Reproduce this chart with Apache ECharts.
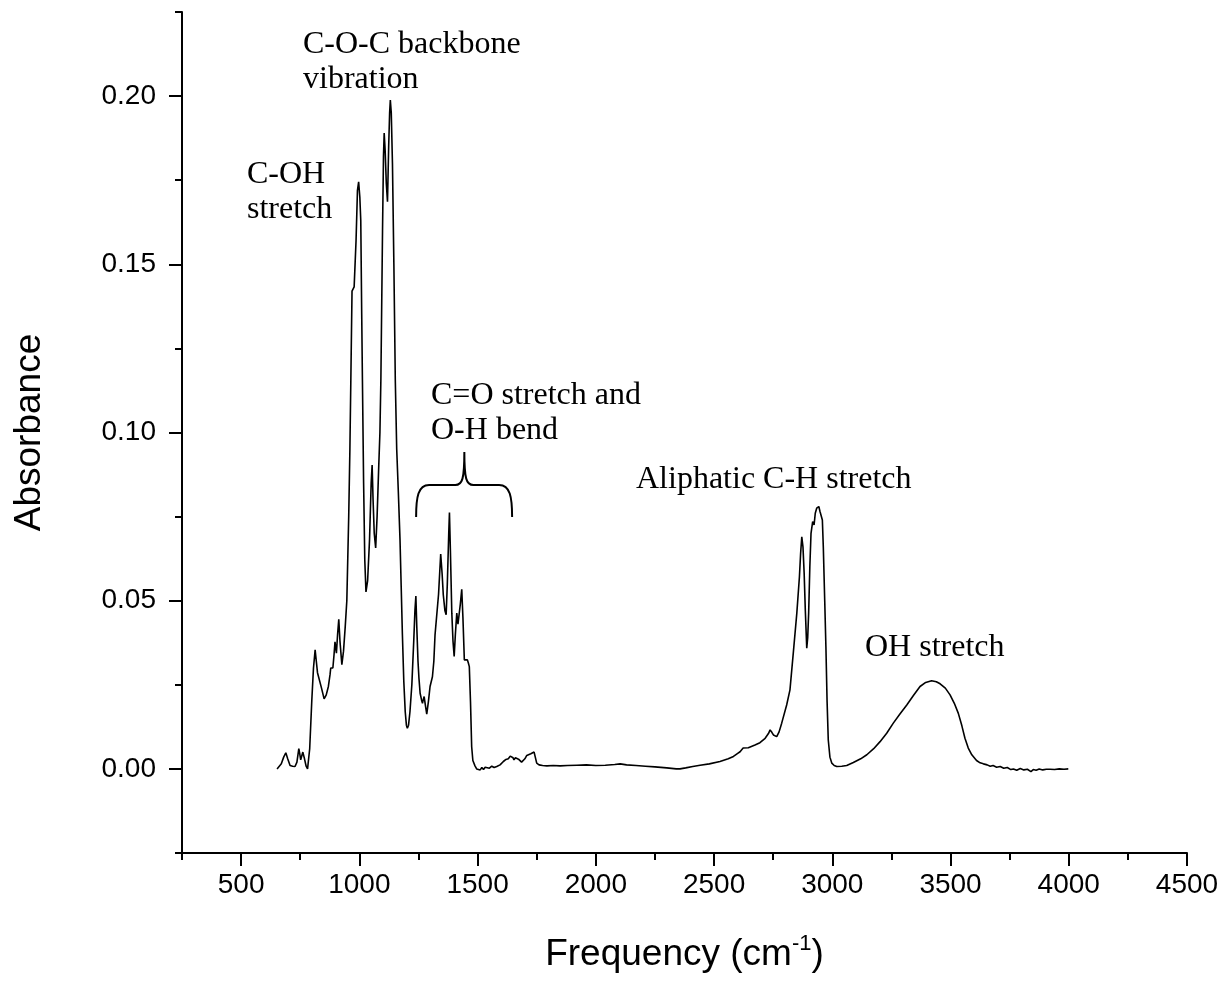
<!DOCTYPE html>
<html>
<head>
<meta charset="utf-8">
<script src="https://cdn.jsdelivr.net/npm/echarts@6/dist/echarts.min.js"></script>
<style>html,body{margin:0;padding:0;background:#fff;}#chart{width:1227px;height:984px;}</style>
</head>
<body>
<div id="chart"></div>
<script>
// Wavenumber (cm-1)
const wavenumber = [652,670,680,689,697,707,718,728,736,744,748,752,757,761,768,775,781,790,799,806,813,818,823,831,840,851,860,869,876,879,888,893,897,903,908,913,918,926,933,940,947,955,960,964,969,978,986,992,997,1002,1006,1010,1013,1018,1023,1028,1035,1043,1050,1054,1058,1063,1069,1075,1082,1087,1091,1098,1102,1105,1109,1114,1119,1124,1128,1131,1135,1140,1146,1152,1158,1165,1172,1177,1182,1188,1194,1199,1203,1208,1214,1222,1230,1235,1239,1243,1248,1252,1257,1263,1267,1270,1274,1279,1285,1292,1299,1309,1315,1320,1327,1335,1344,1350,1355,1362,1367,1372,1378,1381,1385,1391,1396,1401,1406,1412,1417,1421,1427,1433,1438,1444,1450,1457,1461,1465,1470,1475,1480,1489,1496,1503,1511,1518,1525,1532,1539,1550,1560,1570,1581,1595,1609,1620,1630,1638,1645,1650,1654,1660,1667,1673,1680,1686,1691,1700,1708,1715,1725,1733,1739,1744,1750,1760,1775,1793,1820,1849,1880,1920,1960,2000,2040,2080,2103,2130,2170,2210,2250,2300,2340,2356,2380,2410,2441,2480,2525,2560,2582,2600,2610,2623,2631,2645,2652,2673,2694,2716,2730,2737,2745,2751,2765,2775,2786,2807,2821,2835,2850,2861,2866,2871,2876,2881,2886,2892,2896,2900,2905,2910,2917,2923,2928,2934,2943,2948,2955,2958,2962,2968,2973,2978,2983,2990,2998,3008,3019,3040,3061,3089,3120,3146,3175,3202,3230,3258,3286,3315,3343,3371,3395,3420,3440,3456,3478,3498,3516,3533,3548,3561,3575,3590,3610,3625,3639,3655,3668,3680,3695,3710,3725,3740,3755,3766,3780,3795,3810,3825,3840,3850,3862,3875,3890,3905,3921,3940,3960,3980,3998];
// Absorbance
const absorbance = [0.0000,0.0015,0.0035,0.0048,0.0030,0.0010,0.0008,0.0007,0.0020,0.0060,0.0045,0.0027,0.0040,0.0050,0.0030,0.0008,0.0000,0.0060,0.0205,0.0300,0.0354,0.0320,0.0286,0.0284,0.0240,0.0208,0.0220,0.0245,0.0280,0.0300,0.0300,0.0340,0.0378,0.0344,0.0400,0.0445,0.0380,0.0310,0.0350,0.0420,0.0500,0.0750,0.0950,0.1156,0.1420,0.1433,0.1570,0.1720,0.1745,0.1700,0.1630,0.1350,0.1156,0.0850,0.0620,0.0526,0.0560,0.0680,0.0850,0.0903,0.0800,0.0700,0.0657,0.0750,0.0900,0.1000,0.1156,0.1600,0.1820,0.1890,0.1840,0.1740,0.1686,0.1850,0.1950,0.1988,0.1950,0.1800,0.1500,0.1156,0.0950,0.0820,0.0680,0.0540,0.0400,0.0260,0.0170,0.0130,0.0121,0.0130,0.0170,0.0250,0.0380,0.0470,0.0514,0.0420,0.0320,0.0270,0.0225,0.0205,0.0195,0.0205,0.0215,0.0190,0.0163,0.0200,0.0245,0.0274,0.0320,0.0398,0.0403,0.0520,0.0639,0.0580,0.0517,0.0470,0.0458,0.0550,0.0700,0.0762,0.0650,0.0463,0.0380,0.0334,0.0400,0.0463,0.0430,0.0425,0.0490,0.0534,0.0450,0.0324,0.0322,0.0324,0.0315,0.0304,0.0200,0.0066,0.0025,0.0009,0.0000,0.0005,-0.0003,0.0004,-0.0002,0.0005,0.0005,0.0002,0.0008,0.0004,0.0007,0.0012,0.0022,0.0028,0.0030,0.0038,0.0039,0.0033,0.0027,0.0033,0.0030,0.0029,0.0025,0.0020,0.0017,0.0030,0.0040,0.0042,0.0045,0.0048,0.0050,0.0035,0.0017,0.0012,0.0010,0.0009,0.0010,0.0009,0.0010,0.0011,0.0012,0.0010,0.0011,0.0013,0.0015,0.0012,0.0010,0.0008,0.0006,0.0003,0.0000,0.0000,0.0003,0.0007,0.0011,0.0015,0.0022,0.0030,0.0037,0.0046,0.0051,0.0062,0.0066,0.0063,0.0064,0.0071,0.0078,0.0091,0.0105,0.0116,0.0108,0.0101,0.0096,0.0110,0.0136,0.0190,0.0235,0.0344,0.0463,0.0571,0.0640,0.0690,0.0660,0.0582,0.0470,0.0359,0.0390,0.0463,0.0600,0.0700,0.0735,0.0725,0.0760,0.0775,0.0780,0.0765,0.0770,0.0740,0.0660,0.0500,0.0363,0.0200,0.0086,0.0035,0.0017,0.0010,0.0007,0.0008,0.0010,0.0019,0.0030,0.0042,0.0060,0.0081,0.0106,0.0136,0.0163,0.0190,0.0218,0.0245,0.0257,0.0262,0.0259,0.0253,0.0240,0.0220,0.0195,0.0165,0.0128,0.0091,0.0062,0.0042,0.0025,0.0018,0.0015,0.0012,0.0008,0.0010,0.0005,0.0007,0.0002,0.0004,-0.0002,0.0000,-0.0004,0.0001,-0.0003,-0.0001,-0.0008,-0.0002,-0.0004,0.0000,-0.0003,-0.0001,-0.0001,-0.0002,0.0000,-0.0001,0.0000];

const xMajorTicks = [500,1000,1500,2000,2500,3000,3500,4000,4500];
const xMinorTicks = [250,750,1250,1750,2250,2750,3250,3750,4250];
const yMajorTicks = [0,0.05,0.10,0.15,0.20];
const yMinorTicks = [-0.025,0.025,0.075,0.125,0.175,0.225];

// Brace over the C=O / O-H band: x left, apex, right; y ends, bar, apex
const braceX = [1240, 1444, 1646];
const braceY = [0.0749, 0.0844, 0.0942];

const annotations = [
  {text: 'C-O-C backbone\nvibration', x: 303, y: 27},
  {text: 'C-OH\nstretch', x: 247, y: 157},
  {text: 'C=O stretch and\nO-H bend', x: 431, y: 378},
  {text: 'Aliphatic C-H stretch', x: 636, y: 462},
  {text: 'OH stretch', x: 865, y: 630}
];

const seriesData = wavenumber.map((v, i) => [v, absorbance[i]]);

const chart = echarts.init(document.getElementById('chart'), null, {renderer: 'canvas'});
const sans = '"Liberation Sans", Arial, sans-serif';
const serif = '"Liberation Serif", "Times New Roman", serif';

const tickStyle = {color: '#000', width: 2};

const option = {
  backgroundColor: '#fff',
  animation: false,
  grid: {left: 182, right: 40, top: 12, bottom: 131, containLabel: false, outerBoundsMode: 'none'},
  xAxis: [
    {
      type: 'value', min: 250, max: 4500, interval: 250, position: 'bottom',
      splitLine: {show: false},
      axisLine: {show: true, onZero: false, lineStyle: {color: '#000', width: 2}},
      axisTick: {show: true, inside: false, length: 13, lineStyle: tickStyle, customValues: xMajorTicks},
      axisLabel: {show: true, color: '#000', fontFamily: sans, fontSize: 28, margin: 18, customValues: xMajorTicks,
        formatter: v => String(v)},
      name: '{a|Frequency (cm}{s|-1}{a|)}',
      nameLocation: 'middle', nameGap: 80, nameMoveOverlap: false,
      nameTextStyle: {rich: {
        a: {fontFamily: sans, fontSize: 37, color: '#000', lineHeight: 40, verticalAlign: 'bottom'},
        s: {fontFamily: sans, fontSize: 22, color: '#000', lineHeight: 40, verticalAlign: 'top'}
      }}
    },
    {
      type: 'value', min: 250, max: 4500, interval: 250, position: 'bottom',
      splitLine: {show: false},
      axisLine: {show: false, onZero: false},
      axisTick: {show: true, inside: false, length: 7, lineStyle: tickStyle, customValues: xMinorTicks},
      axisLabel: {show: false}
    }
  ],
  yAxis: [
    {
      type: 'value', min: -0.025, max: 0.225, interval: 0.025, position: 'left',
      splitLine: {show: false},
      axisLine: {show: true, onZero: false, lineStyle: {color: '#000', width: 2}},
      axisTick: {show: true, inside: false, length: 13, lineStyle: tickStyle, customValues: yMajorTicks},
      axisLabel: {show: true, color: '#000', fontFamily: sans, fontSize: 28, margin: 26, customValues: yMajorTicks,
        formatter: v => v.toFixed(2)},
      name: 'Absorbance', nameLocation: 'middle', nameGap: 134, nameMoveOverlap: false,
      nameTextStyle: {fontFamily: sans, fontSize: 37, color: '#000'}
    },
    {
      type: 'value', min: -0.025, max: 0.225, interval: 0.025, position: 'left',
      splitLine: {show: false},
      axisLine: {show: false, onZero: false},
      axisTick: {show: true, inside: false, length: 7, lineStyle: tickStyle, customValues: yMinorTicks},
      axisLabel: {show: false}
    }
  ],
  series: [
    {
      type: 'line', xAxisIndex: 0, yAxisIndex: 0,
      data: seriesData, showSymbol: false, symbol: 'none',
      lineStyle: {color: '#000', width: 1.6}, smooth: false, silent: true
    },
    {
      type: 'custom', xAxisIndex: 0, yAxisIndex: 0, silent: true,
      data: [[braceX[1], braceY[2]]],
      renderItem: function (params, api) {
        const L = api.coord([braceX[0], braceY[0]]);
        const A = api.coord([braceX[1], braceY[2]]);
        const R = api.coord([braceX[2], braceY[0]]);
        const yH = api.coord([braceX[1], braceY[1]])[1];
        const d = [
          'M', L[0], L[1],
          'C', L[0], yH + 12, L[0] + 2, yH, L[0] + 13, yH,
          'L', A[0] - 9, yH,
          'C', A[0] - 2, yH, A[0], yH - 6, A[0], A[1],
          'M', A[0], A[1],
          'C', A[0], yH - 6, A[0] + 2, yH, A[0] + 9, yH,
          'L', R[0] - 13, yH,
          'C', R[0] - 2, yH, R[0], yH + 12, R[0], R[1]
        ].join(' ');
        return {type: 'path', shape: {pathData: d}, style: {stroke: '#000', lineWidth: 2, fill: null}};
      }
    }
  ],
  graphic: annotations.map(a => ({
    type: 'text', x: a.x, y: a.y, silent: true,
    style: {text: a.text, font: '32px ' + serif, fill: '#000', textAlign: 'left', textVerticalAlign: 'top', lineHeight: 35}
  }))
};
chart.setOption(option);
</script>
</body>
</html>
